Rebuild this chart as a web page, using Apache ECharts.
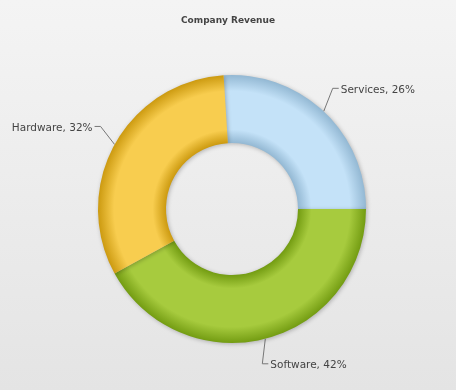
<!DOCTYPE html>
<html>
<head>
<meta charset="utf-8">
<script src="https://cdn.jsdelivr.net/npm/echarts@6/dist/echarts.min.js"></script>
<style>
html,body{margin:0;padding:0;}
#chart{width:456px;height:390px;}
</style>
</head>
<body>
<div id="chart"></div>
<script>
var titleText = 'Company Revenue';
var categories = ['Services', 'Software', 'Hardware'];
var values = [26, 42, 32];

var baseColors = ['#c4e2f8', '#a7cb3e', '#f8cd4f'];
var darkColors = ['#93b8d3', '#739c12', '#cc9a10'];
// label-line elbow offsets (style only)
var elbowOffsets = [[9, -23], [-3, 25], [-14, -18]];
var elbowTail = 6;

var cx = 232, cy = 209, rOut = 134, rIn = 66;
function fill(i) {
  var t = rIn / rOut;
  return {
    type: 'radial', x: cx, y: cy, r: rOut, global: true,
    colorStops: [
      {offset: 0, color: darkColors[i]},
      {offset: t, color: darkColors[i]},
      {offset: t + 0.1, color: baseColors[i]},
      {offset: 0.88, color: baseColors[i]},
      {offset: 1, color: darkColors[i]}
    ]
  };
}
var data = categories.map(function (c, i) {
  return {name: c, value: values[i], itemStyle: {color: fill(i)}};
});
var chart = echarts.init(document.getElementById('chart'));
chart.setOption({
  backgroundColor: {
    type: 'linear', x: 0, y: 0, x2: 0, y2: 1,
    colorStops: [{offset: 0, color: '#f4f4f4'}, {offset: 1, color: '#e4e4e4'}]
  },
  title: {
    text: titleText, left: 'center', top: 11,
    textStyle: {fontFamily: 'DejaVu Sans', fontSize: 9, fontWeight: 'bold', color: '#444'}
  },
  series: [{
    type: 'pie',
    center: [cx, cy],
    radius: [rIn, rOut],
    startAngle: 93.6,
    clockwise: true,
    animation: false,
    silent: true,
    itemStyle: {shadowBlur: 4, shadowColor: 'rgba(0,0,0,0.25)', shadowOffsetX: 1, shadowOffsetY: 1},
    label: {
      show: true,
      overflow: 'none',
      formatter: function (p) { return p.name + ', ' + p.value + '%'; },
      fontFamily: 'DejaVu Sans', fontSize: 10.5, color: '#444'
    },
    labelLine: {show: true, length: 22, length2: 6, lineStyle: {color: '#777', width: 1}},
    labelLayout: function (params) {
      var pts = params.labelLinePoints;
      if (!pts) return {};
      var a = pts[0];
      var off = elbowOffsets[params.dataIndex];
      var e = [a[0] + off[0], a[1] + off[1]];
      var right = a[0] >= cx;
      var end = [e[0] + (right ? elbowTail : -elbowTail), e[1]];
      var w = params.labelRect.width, h = params.labelRect.height;
      return {
        x: right ? end[0] + 2 : end[0] - 2 - w,
        y: end[1] - h / 2 + 1.5,
        align: 'left',
        verticalAlign: 'top',
        labelLinePoints: [a, e, end]
      };
    },
    data: data
  }]
});
</script>
</body>
</html>
